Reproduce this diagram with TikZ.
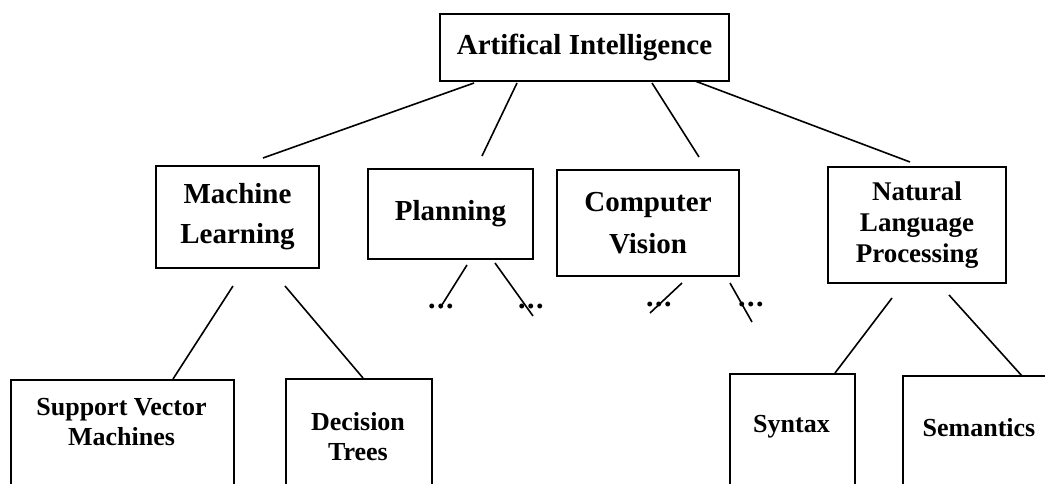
\documentclass[tikz,border=0pt]{standalone}
\usepackage{fontspec}
\setmainfont{Liberation Serif}
\newcommand{\moredots}{.\kern1.5pt.\kern1.5pt.}
\begin{document}
\begin{tikzpicture}[x=1pt,y=-1pt,
  box/.style={draw, line width=1.6pt, inner sep=0pt},
  link/.style={line width=1.6pt},
  big/.style={font=\bfseries\fontsize{29}{42}\selectfont, align=center},
  mid/.style={font=\bfseries\fontsize{27}{31}\selectfont, align=center},
  small/.style={font=\bfseries\fontsize{26}{30}\selectfont, align=center},
  more/.style={font=\bfseries\fontsize{30}{30}\selectfont, anchor=base west, inner sep=0pt}]
\useasboundingbox (0,0) rectangle (1045,484);
\clip (0,0) rectangle (1045,484);

% top level
\node[box, big, minimum width=289pt, minimum height=67pt] (ai) at (584.5,47.5) {Artifical Intelligence};

% second level
\node[box, big, minimum width=163pt, minimum height=102pt] (ml) at (237.5,217) {\raisebox{-2pt}{Machine}\\Learning};
\node[box, big, minimum width=165pt, minimum height=90pt] (pl) at (450.5,214) {Planning};
\node[box, big, minimum width=182pt, minimum height=106pt] (cv) at (648,223) {Computer\\Vision};
\node[box, mid, minimum width=178pt, minimum height=116pt] (nlp) at (917,225) {Natural\\Language\\Processing};

% leaves (running off the bottom edge)
\node[box, anchor=north west, minimum width=223pt, minimum height=160pt] (svm) at (10,379) {};
\node[box, anchor=north west, minimum width=146pt, minimum height=160pt] (dt) at (285,378) {};
\node[box, anchor=north west, minimum width=125pt, minimum height=160pt] (syn) at (729,373) {};
\node[box, anchor=north west, minimum width=180pt, minimum height=160pt] (sem) at (902,375) {};
\node[small] (svmt) at (121.5,422) {Support Vector\\Machines};
\node[small] (dtt) at (358,437) {Decision\\Trees};
\node[small] (synt) at (791.5,427) {Syntax};
\node[small] (semt) at (979,428) {Semantics};

% ellipses under Planning and Computer Vision
\node[more] (pl1) at (428,308) {\moredots};
\node[more] (pl2) at (518,308) {\moredots};
\node[more] (cv1) at (646,306) {\moredots};
\node[more] (cv2) at (738,306) {\moredots};

% connector end points
\coordinate (ai1) at (474,83);   \coordinate (ml0) at (263,158);
\coordinate (ai2) at (517,83);   \coordinate (pl0) at (482,156);
\coordinate (ai3) at (652,83);   \coordinate (cv0) at (699,157);
\coordinate (ai4) at (695,81);   \coordinate (nlp0) at (910,162);
\coordinate (ml1) at (233,286);  \coordinate (svm0) at (173,379);
\coordinate (ml2) at (285,286);  \coordinate (dt0) at (363,378);
\coordinate (pla) at (467,265);  \coordinate (plb) at (440,308);
\coordinate (plc) at (495,263);  \coordinate (pld) at (533,316);
\coordinate (cva) at (682,283);  \coordinate (cvb) at (650,313);
\coordinate (cvc) at (730,283);  \coordinate (cvd) at (752,322);
\coordinate (nlp1) at (892,298); \coordinate (syn0) at (835,373);
\coordinate (nlp2) at (949,295); \coordinate (sem0) at (1022,376);

\draw[link] (ai1) -- (ml0);
\draw[link] (ai2) -- (pl0);
\draw[link] (ai3) -- (cv0);
\draw[link] (ai4) -- (nlp0);
\draw[link] (ml1) -- (svm0);
\draw[link] (ml2) -- (dt0);
\draw[link] (pla) -- (plb);
\draw[link] (plc) -- (pld);
\draw[link] (cva) -- (cvb);
\draw[link] (cvc) -- (cvd);
\draw[link] (nlp1) -- (syn0);
\draw[link] (nlp2) -- (sem0);
\end{tikzpicture}
\end{document}
